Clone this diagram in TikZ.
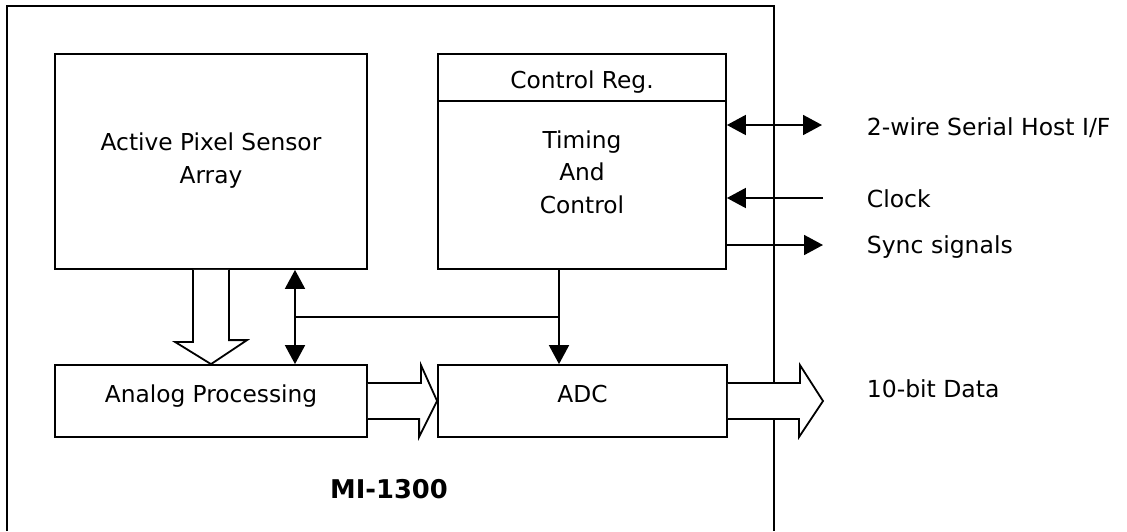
\documentclass[tikz,border=0pt]{standalone}
\usepackage{fontspec}
\setmainfont{DejaVu Sans}
\usetikzlibrary{arrows.meta,calc}
\begin{document}
\begin{tikzpicture}[x=1pt,y=-1pt,
  every path/.style={line width=1.8pt},
  blk/.style={draw,line width=1.8pt,inner sep=0pt,fill=white},
  txt/.style={font=\fontsize{23.3}{33}\selectfont,inner sep=0pt,anchor=base},
  lbl/.style={font=\fontsize{23.5}{33}\selectfont,inner sep=0pt,anchor=base west},
  tip/.style={-{Triangle[length=19pt,width=20pt]}},
  dtip/.style={{Triangle[length=19pt,width=20pt]}-{Triangle[length=19pt,width=20pt]}},
  hollow/.style={draw,line width=1.8pt,fill=white,line join=miter}]
\useasboundingbox (0,0) rectangle (1127,531);
\fill[white] (0,0) rectangle (1127,531);
% chip outline
\coordinate (obl) at (7,531);
\coordinate (obr) at (774,531);
\draw (obl) -- (7,6) -- (774,6) -- (obr);
% blocks
\node[blk,minimum width=312pt,minimum height=215pt] (aps) at (211,161.5) {};
\node[txt] (apstxta) at (211,150) {Active Pixel Sensor};
\node[txt] (apstxtb) at (211,183) {Array};
\node[blk,minimum width=288pt,minimum height=47pt] (creg) at (582,77.5) {};
\node[txt] (cregtxt) at (582,88) {Control Reg.};
\node[blk,minimum width=288pt,minimum height=168pt] (tim) at (582,185) {};
\node[txt] (timtxta) at (582,148) {Timing};
\node[txt] (timtxtb) at (582,180) {And};
\node[txt] (timtxtc) at (582,213) {Control};
\node[blk,minimum width=312pt,minimum height=72pt] (ana) at (211,401) {};
\node[txt] (anatxt) at (211,402) {Analog Processing};
\node[blk,minimum width=289pt,minimum height=72pt] (adc) at (582.5,401) {};
\node[txt] (adctxt) at (582.5,402) {ADC};
% hollow arrow APS -> Analog
\draw[hollow] ($(aps.south)+(-18,0)$) -- ++(0,72) -- ++(-18,0) -- (ana.north) -- ++(36,-24) -- ++(-18,0) -- ($(aps.south)+(18,0)$);
% hollow arrow Analog -> ADC
\draw[hollow] ($(ana.east)+(0,-18)$) -- ++(53,0) -- ++(0,-18) -- (adc.west) -- ++(-18,36) -- ++(0,-18) -- ($(ana.east)+(0,18)$);
% output hollow arrow
\coordinate (dout) at (823,401);
\draw[hollow] ($(adc.east)+(0,-18)$) -- ++(72,0) -- ++(0,-18) -- (dout) -- ++(-24,36) -- ++(0,-18) -- ($(adc.east)+(0,18)$);
% control bus
\coordinate (bus) at (295,317);
\coordinate (tap) at (559,317);
\draw[dtip] (bus |- aps.south) -- (bus |- ana.north);
\draw (bus) -- (tap);
\draw[tip] (tap |- tim.south) -- (tap |- adc.north);
% external signals
\coordinate (ser) at (822,125);
\coordinate (clk) at (823,198);
\coordinate (syn) at (823,245);
\draw[dtip] (ser -| tim.east) -- (ser);
\draw[tip] (clk) -- (clk -| tim.east);
\draw[tip] (syn -| tim.east) -- (syn);
\node[lbl] (serl) at (866,135) {2-wire Serial Host I/F};
\node[lbl] (clkl) at (866,207) {Clock};
\node[lbl] (synl) at (866,253) {Sync signals};
\node[lbl] (datl) at (866,397) {10-bit Data};
\node[font=\fontsize{25.8}{30}\selectfont\bfseries,inner sep=0pt,anchor=base] (chip) at (389,498) {MI-1300};
\end{tikzpicture}
\end{document}
